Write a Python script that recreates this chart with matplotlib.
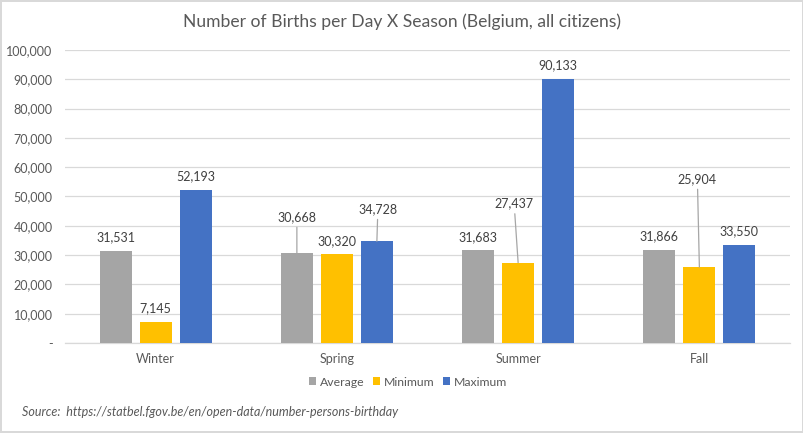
import numpy as np
import matplotlib
matplotlib.use("Agg")
import matplotlib.pyplot as plt
from matplotlib.ticker import FuncFormatter

seasons = ["Winter", "Spring", "Summer", "Fall"]
series_names = ["Average", "Minimum", "Maximum"]
average = [31531, 30668, 31683, 31866]
minimum = [7145, 30320, 27437, 25904]
maximum = [52193, 34728, 90133, 33550]
colors = ["#A5A5A5", "#FFC000", "#4472C4"]

# labels that Excel moved away from the bar (series index, season index) -> (dx, dy) in px
moved = {(0, 1): (0, 36), (2, 1): (1, 32), (1, 2): (-4, 59), (1, 3): (-2, 88)}

plt.rcParams['font.family'] = ['Lato', 'DejaVu Sans']
txt = "#595959"

fig = plt.figure(figsize=(8.04, 4.33), dpi=100)
fig.patch.set_edgecolor("#D9D9D9")
fig.patch.set_linewidth(1.5)
ax = fig.add_axes([65/804, 1-343/433, 725/804, 293/433])

x = np.arange(len(seasons))
w = 0.1766
step = 0.2207
for i, (vals, col, name) in enumerate(zip([average, minimum, maximum], colors, series_names)):
    xs = x + (i - 1) * step
    ax.bar(xs, vals, width=w, color=col, label=name, zorder=3)
    for j, v in enumerate(vals):
        lab = f"{v:,}"
        if (i, j) in moved:
            dx, dy = moved[(i, j)]
            ax.annotate(lab, xy=(xs[j], v), xytext=(dx*0.72, dy*0.72), textcoords="offset points",
                        ha="center", va="center", fontsize=9, color="#404040",
                        arrowprops=dict(arrowstyle="-", color="#A6A6A6", lw=0.9,
                                        shrinkA=1, shrinkB=0))
        else:
            ax.annotate(lab, xy=(xs[j], v), xytext=(0, 13.5*0.72), textcoords="offset points",
                        ha="center", va="center", fontsize=9, color="#404040")

ax.set_xlim(-0.5, 3.5)
ax.set_ylim(0, 100000)
ax.set_yticks(np.arange(0, 100001, 10000))
ax.yaxis.set_major_formatter(FuncFormatter(lambda v, p: "-" if v == 0 else f"{int(v):,}"))
ax.set_xticks(x)
ax.set_xticklabels(seasons)
ax.tick_params(axis="both", length=0, labelsize=9, colors=txt)
ax.tick_params(axis="y", pad=9)
ax.tick_params(axis="x", pad=7)
ax.grid(axis="y", color="#D9D9D9", lw=0.9, zorder=0)
for s in ["top", "right", "left"]:
    ax.spines[s].set_visible(False)
ax.spines["bottom"].set_color("#D9D9D9")
ax.spines["bottom"].set_linewidth(0.9)

fig.text(0.5, 1-22/433, "Number of Births per Day X Season (Belgium, all citizens)",
         ha="center", va="center", fontsize=12.6, color=txt)
fig.legend(loc="center", bbox_to_anchor=(408/804, 1-382/433), ncol=3, frameon=False,
           fontsize=8.8, labelcolor=txt, handlelength=0.6, handleheight=0.6,
           handletextpad=0.3, columnspacing=0.7)
fig.text(22/804, 1-412/433, "Source:  https://statbel.fgov.be/en/open-data/number-persons-birthday",
         ha="left", va="center", fontsize=9, style="italic", color=txt)

fig.savefig("out.png", dpi=100)
